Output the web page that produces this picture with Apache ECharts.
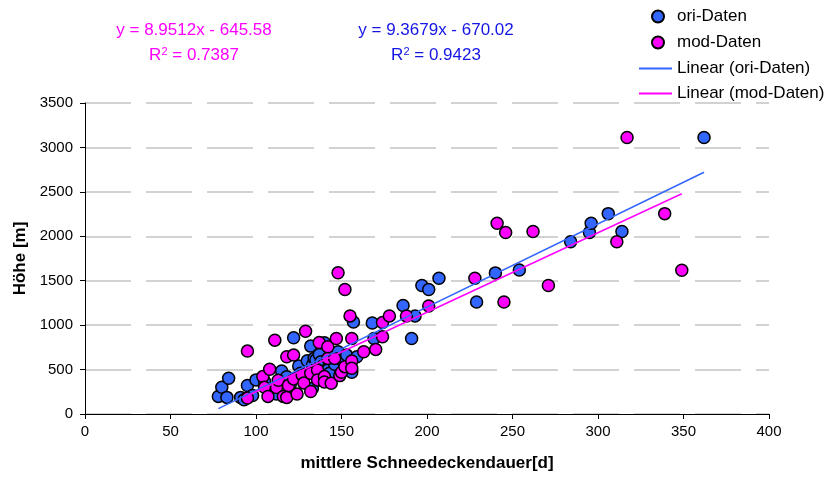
<!DOCTYPE html>
<html>
<head>
<meta charset="utf-8">
<script src="https://cdn.jsdelivr.net/npm/echarts@6/dist/echarts.min.js"></script>
<style>
    html, body { margin: 0; padding: 0; background: #fff; }
    #chart { width: 829px; height: 477px; }
</style>
</head>
<body>
<div id="chart"></div>
<script>
var oriDaten = [
    [78, 198], [80, 302], [83, 187], [84, 403], [91, 187], [93, 160], [95, 321], [98, 209],
    [100, 384], [105, 366], [110, 260], [112, 224], [115, 484], [118, 420], [120, 330], [122, 858],
    [125, 540], [126, 458], [129, 440], [130, 600], [132, 764], [133, 551], [133, 291], [134, 626],
    [135, 607], [136, 384], [137, 671], [138, 589], [140, 802], [140, 570], [140, 403], [142, 514],
    [142, 496], [143, 458], [146, 560], [148, 700], [151, 589], [153, 663], [156, 470], [157, 1036],
    [159, 645], [168, 1025], [169, 850], [186, 1222], [191, 850], [193, 1104], [197, 1446], [201, 1401],
    [207, 1528], [229, 1260], [240, 1588], [254, 1621], [284, 1938], [295, 2043], [296, 2147], [306, 2255],
    [314, 2054], [362, 3112]
];
var modDaten = [
    [95, 708], [95, 179], [104, 421], [105, 300], [107, 198], [108, 503], [111, 831], [112, 298],
    [113, 380], [116, 198], [118, 187], [118, 645], [119, 321], [122, 663], [122, 395], [124, 224],
    [127, 440], [128, 350], [129, 932], [132, 458], [132, 254], [136, 496], [136, 384], [137, 805],
    [140, 421], [140, 360], [142, 757], [142, 626], [144, 347], [146, 626], [147, 850], [148, 1590],
    [149, 432], [150, 470], [152, 533], [152, 1401], [155, 1104], [156, 850], [156, 596], [156, 514],
    [163, 701], [170, 727], [174, 1029], [174, 869], [178, 1104], [188, 1104], [201, 1215], [228, 1528],
    [241, 2147], [245, 1260], [246, 2043], [262, 2054], [271, 1446], [311, 1938], [317, 3112], [339, 2255],
    [349, 1618]
];
// Trendlinien (y = a*x + b)
var oriFit = { a: 9.3679, b: -670.02, r2: '0.9423' };
var modFit = { a: 8.9512, b: -645.58, r2: '0.7387' };

var xTicks = [0, 400, 50];
var yTicks = [0, 3500, 500];

var blau = '#3366ff';
var pink = '#ff00ff';
var dunkelblau = '#1515e6';
var schrift = '"Liberation Sans", Arial, sans-serif';

function trend(data, fit) {
    var xs = data.map(function (d) { return d[0]; });
    var x0 = Math.min.apply(null, xs), x1 = Math.max.apply(null, xs);
    return [[x0, fit.a * x0 + fit.b], [x1, fit.a * x1 + fit.b]];
}

function gleichung(fit) {
    var b = fit.b < 0 ? ' - ' + Math.abs(fit.b).toFixed(2) : ' + ' + fit.b.toFixed(2);
    return 'y = ' + fit.a.toFixed(4) + 'x' + b;
}

// Text der Regressionsgleichung (zentriert um x)
function formel(x, fit, farbe) {
    return [
        {
            type: 'text', x: x, y: 22,
            style: { text: gleichung(fit), fill: farbe, font: '17px ' + schrift, textAlign: 'center' }
        },
        {
            type: 'text', x: x, y: 46,
            style: {
                text: 'R{s|2} = ' + fit.r2, fill: farbe, font: '17px ' + schrift, textAlign: 'center',
                rich: { s: { fontSize: 11, verticalAlign: 'top', padding: [0, 0, 7, 0], fill: farbe } }
            }
        }
    ];
}

var myChart = echarts.init(document.getElementById('chart'));
var option = {
    animation: false,
    textStyle: { fontFamily: schrift },
    grid: { left: 85, right: 60, top: 103, bottom: 61 },
    legend: [
        {
            orient: 'vertical', left: 651, top: 8, padding: 0,
            itemWidth: 12, itemHeight: 12, itemGap: 9,
            data: [{ name: 'ori-Daten', icon: 'circle' }, { name: 'mod-Daten', icon: 'circle' }],
            textStyle: { fontSize: 17, color: '#000', padding: [0, 0, 0, 8] }
        },
        {
            orient: 'vertical', left: 639, top: 60, padding: 0,
            itemWidth: 33, itemHeight: 2, itemGap: 8,
            data: [{ name: 'Linear (ori-Daten)', icon: 'rect' }, { name: 'Linear (mod-Daten)', icon: 'rect' }],
            textStyle: { fontSize: 17, color: '#000' }
        }
    ],
    graphic: formel(194, modFit, pink).concat(formel(436, oriFit, dunkelblau)),
    xAxis: {
        type: 'value', min: xTicks[0], max: xTicks[1], interval: xTicks[2],
        name: 'mittlere Schneedeckendauer[d]', nameLocation: 'middle', nameGap: 41,
        nameTextStyle: { fontSize: 17, fontWeight: 'bold', color: '#000' },
        axisLine: { show: true, onZero: false, lineStyle: { color: '#000', width: 1 } },
        axisTick: { show: true, length: 5, lineStyle: { color: '#000' } },
        axisLabel: { fontSize: 15, color: '#000', margin: 10 },
        splitLine: { show: false }
    },
    yAxis: {
        type: 'value', min: yTicks[0], max: yTicks[1], interval: yTicks[2],
        name: 'Höhe [m]', nameLocation: 'middle', nameGap: 48,
        nameTextStyle: { fontSize: 17, fontWeight: 'bold', color: '#000' },
        axisLine: { show: true, lineStyle: { color: '#000', width: 1 } },
        axisTick: { show: true, length: 5, lineStyle: { color: '#000' } },
        axisLabel: { fontSize: 15, color: '#000', margin: 12, formatter: function (v) { return String(v); } },
        splitLine: { show: true, lineStyle: { color: '#c4c4c4', width: 1.5, type: [46, 15], dashOffset: 0 } }
    },
    series: [
        {
            name: 'ori-Daten', type: 'scatter', data: oriDaten, symbolSize: 12, z: 2,
            itemStyle: { color: blau, borderColor: '#000', borderWidth: 1.5, opacity: 1 }
        },
        {
            name: 'mod-Daten', type: 'scatter', data: modDaten, symbolSize: 12, z: 3,
            itemStyle: { color: pink, borderColor: '#000', borderWidth: 1.5, opacity: 1 }
        },
        {
            name: 'Linear (ori-Daten)', type: 'line', data: trend(oriDaten, oriFit), z: 4,
            symbol: 'none', color: blau, lineStyle: { color: blau, width: 1.5 },
            itemStyle: { color: blau }
        },
        {
            name: 'Linear (mod-Daten)', type: 'line', data: trend(modDaten, modFit), z: 4,
            symbol: 'none', color: pink, lineStyle: { color: pink, width: 1.5 },
            itemStyle: { color: pink }
        }
    ]
};
myChart.setOption(option);
</script>
</body>
</html>
